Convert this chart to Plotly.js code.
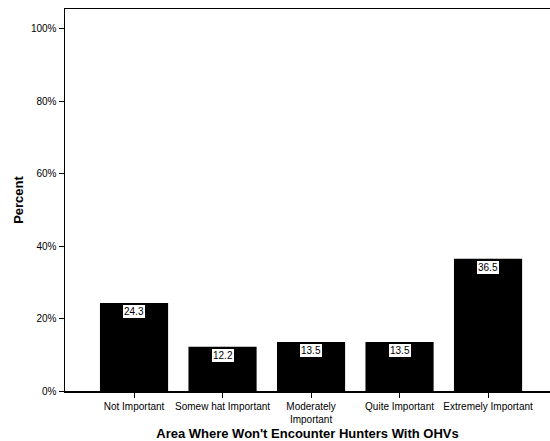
<!DOCTYPE html>
<html>
<head>
<meta charset="utf-8">
<script src="https://cdn.plot.ly/plotly-3.0.1.min.js"></script>
<style>html,body{margin:0;padding:0;background:#fff;}#chart{width:550px;height:441px;}</style>
</head>
<body>
<div id="chart"></div>
<script>
const categories = ["Not Important", "Somew hat Important", "Moderately<br>Important", "Quite Important", "Extremely Important"];
const percents = [24.3, 12.2, 13.5, 13.5, 36.5];
const yTickVals = [0, 20, 40, 60, 80, 100];
const yTickText = ["0%", "20%", "40%", "60%", "80%", "100%"];

const FONT = "Liberation Sans, Arial, sans-serif";
const xIdx = categories.map((c, i) => i);

const trace = {
  type: "bar",
  x: xIdx,
  y: percents,
  width: 0.77,
  marker: {color: "#000000", line: {width: 0}},
  hoverinfo: "none"
};

const annotations = percents.map((v, i) => ({
  x: i, y: v, xref: "x", yref: "y",
  text: v.toFixed(1),
  showarrow: false,
  yanchor: "top",
  yshift: -1,
  bgcolor: "#ffffff",
  bordercolor: "#000000",
  borderwidth: 1,
  borderpad: 1,
  font: {family: FONT, size: 10, color: "#000"}
}));

const layout = {
  width: 550, height: 441,
  margin: {l: 65, r: 0, t: 9, b: 50},
  paper_bgcolor: "#fff", plot_bgcolor: "#fff",
  showlegend: false,
  font: {family: FONT, color: "#000"},
  xaxis: {
    range: [-0.78, 4.70],
    tickmode: "array", tickvals: xIdx, ticktext: categories,
    ticks: "outside", ticklen: 5, tickwidth: 1, tickcolor: "#000",
    tickfont: {family: FONT, size: 10, color: "#000"},
    showline: true, linecolor: "#000", linewidth: 1.5, mirror: true,
    showgrid: false, zeroline: false, fixedrange: true,
    title: {text: "<b>Area Where Won't Encounter Hunters With OHVs</b>", font: {family: FONT, size: 13, color: "#000"}, standoff: 12}
  },
  yaxis: {
    range: [0, 105.5],
    tickmode: "array", tickvals: yTickVals, ticktext: yTickText,
    ticks: "outside", ticklen: 5, tickwidth: 1, tickcolor: "#000",
    tickfont: {family: FONT, size: 10, color: "#000"},
    showline: true, linecolor: "#000", linewidth: 1.5, mirror: false,
    showgrid: false, zeroline: false, fixedrange: true,
    title: {text: "<b>Percent</b>", font: {family: FONT, size: 13, color: "#000"}, standoff: 4}
  },
  annotations: annotations
};

Plotly.newPlot("chart", [trace], layout, {displayModeBar: false, staticPlot: true});
</script>
</body>
</html>
